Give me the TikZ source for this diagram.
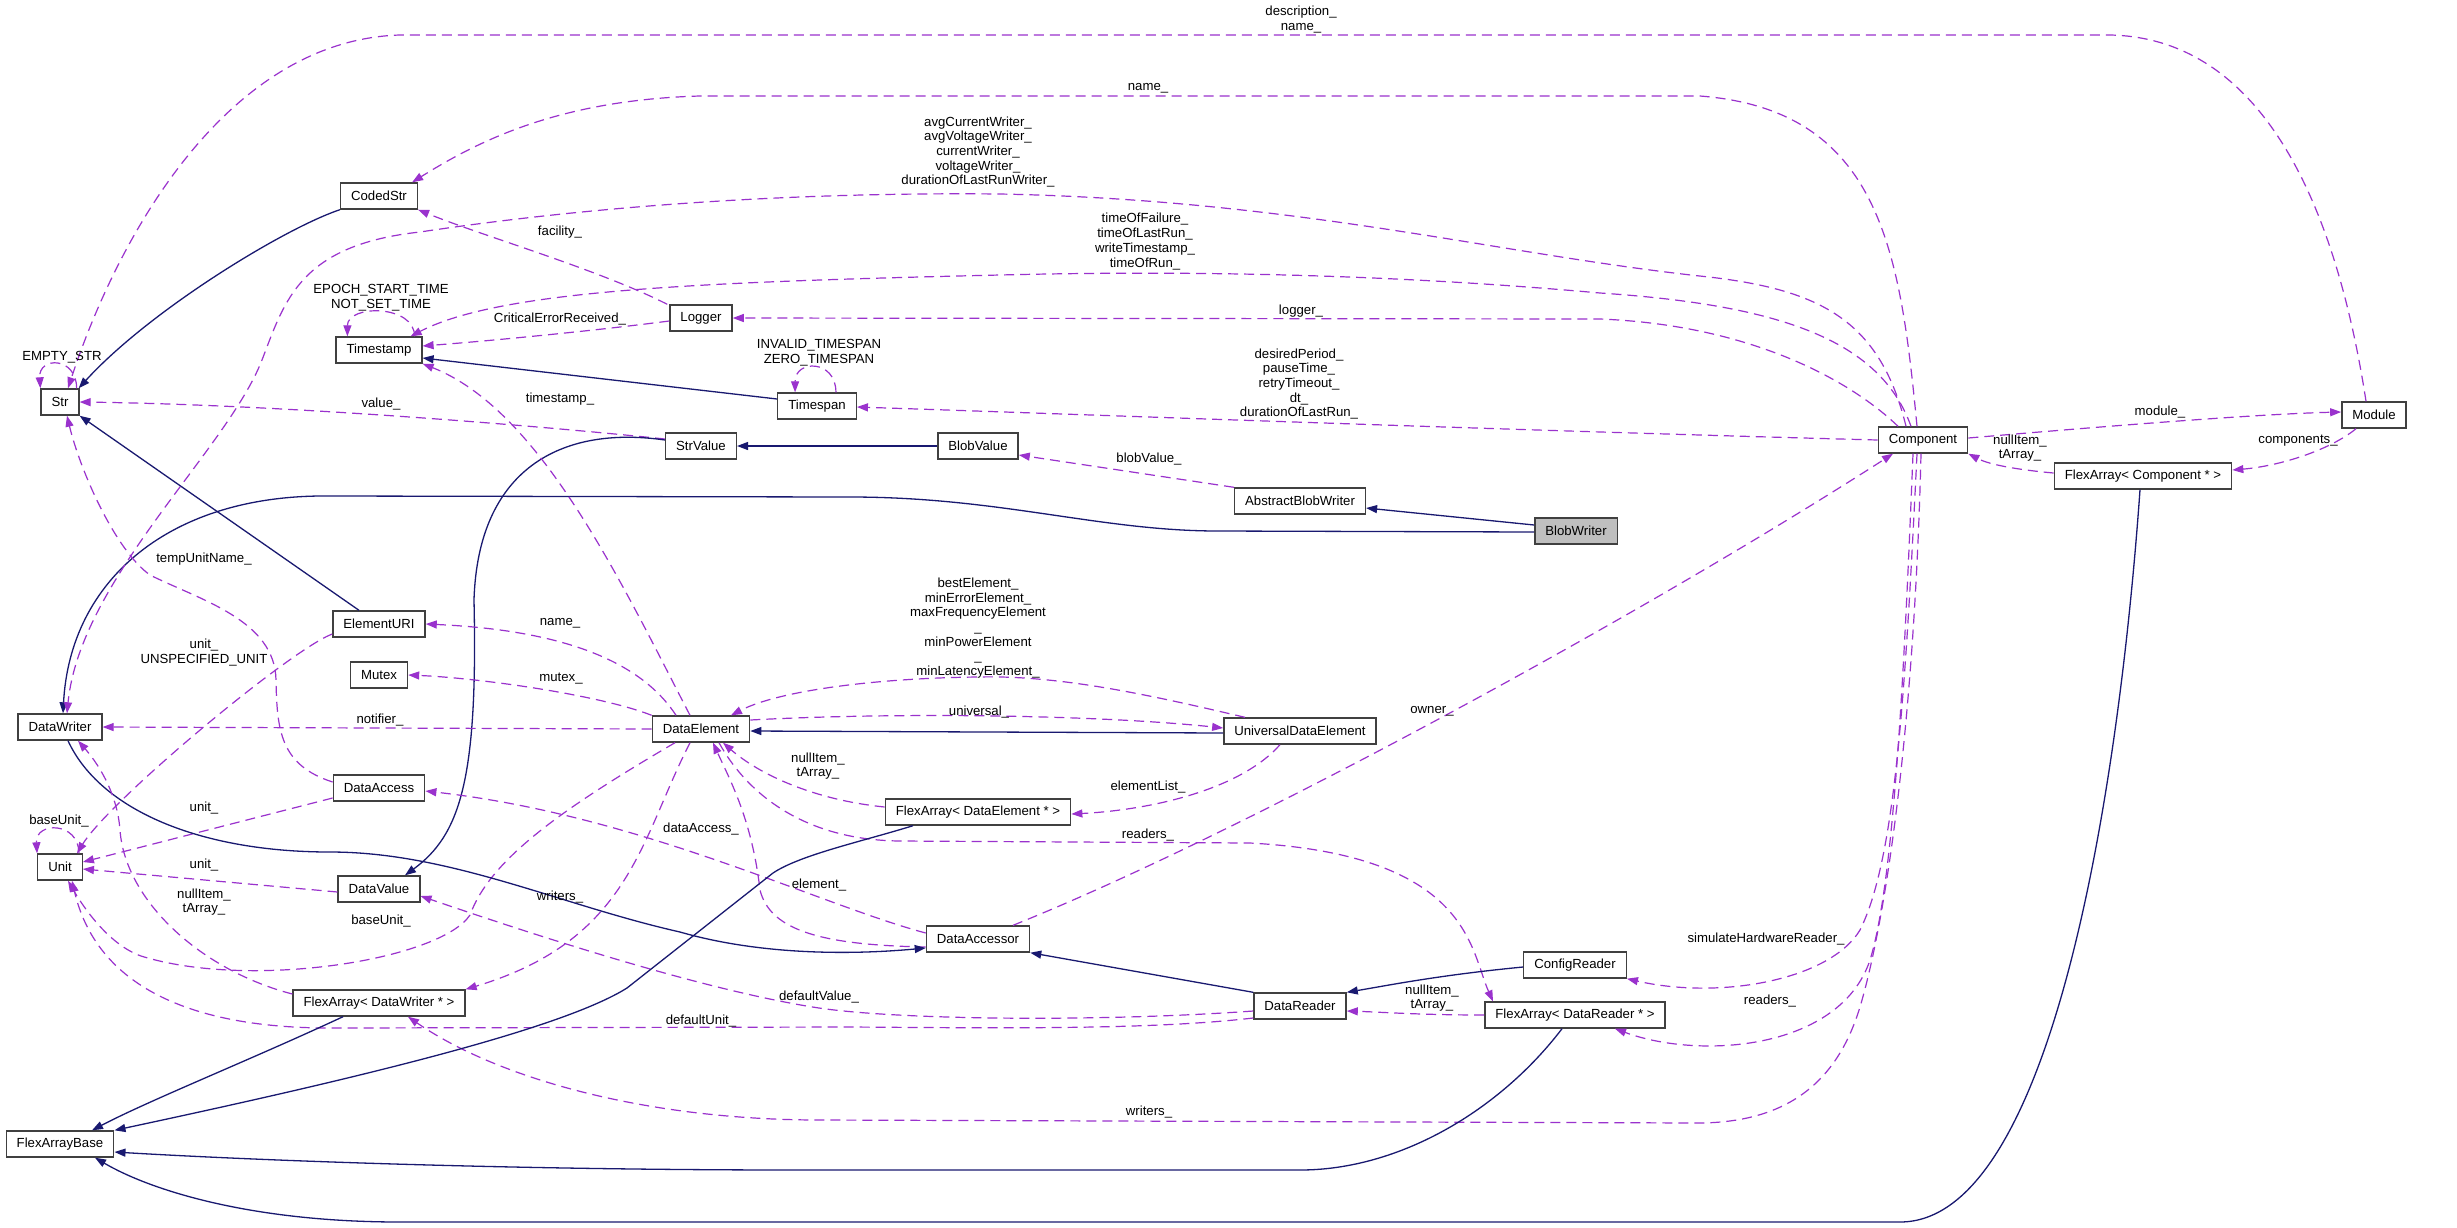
\documentclass[tikz,border=0pt]{standalone}
\usepackage{fontspec}
\setmainfont{Liberation Sans}
\usetikzlibrary{arrows.meta}
\definecolor{usec}{RGB}{154,50,205}
\definecolor{inhc}{RGB}{25,25,112}
\begin{document}
\begin{tikzpicture}[x=1pt,y=-1pt,
 cls/.style={draw=black!75, line width=1.4pt, fill=white, minimum height=26pt, inner xsep=10.5pt, inner ysep=0pt, font=\fontsize{13.2}{14.7}\selectfont},
 lbl/.style={font=\fontsize{13.2}{14.7}\selectfont, align=center, inner sep=0pt},
 use/.style={draw=usec, line width=1.2pt, dash pattern=on 10pt off 6pt, -{Triangle[length=11pt,width=8pt]}},
 inh/.style={draw=inhc, line width=1.3pt, -{Triangle[length=11pt,width=8pt]}}]
\fill[white] (0,0) rectangle (2457,1227);
\useasboundingbox (0,0) rectangle (2457,1227);

% nodes
\node[cls] (Str) at (60,402) {Str};
\node[cls] (CodedStr) at (379,196) {CodedStr};
\node[cls] (Tstamp) at (379,350) {Timestamp};
\node[cls] (Logger) at (701,318) {Logger};
\node[cls] (Tspan) at (817,406) {Timespan};
\node[cls] (StrValue) at (701,446) {StrValue};
\node[cls] (BlobValue) at (978,446) {BlobValue};
\node[cls] (ABW) at (1300,501) {AbstractBlobWriter};
\node[cls, fill=black!25] (BlobWriter) at (1576,531) {BlobWriter};
\node[cls] (Comp) at (1923,440) {Component};
\node[cls] (Module) at (2374,415) {Module};
\node[cls] (FComp) at (2143,476) {FlexArray< Component * >};
\node[cls] (EURI) at (379,624) {ElementURI};
\node[cls] (Mutex) at (379,675) {Mutex};
\node[cls] (DWriter) at (60,727) {DataWriter};
\node[cls] (DElem) at (701,729) {DataElement};
\node[cls] (UDE) at (1300,731) {UniversalDataElement};
\node[cls] (DAccess) at (379,788) {DataAccess};
\node[cls] (Unit) at (60,867) {Unit};
\node[cls] (DValue) at (379,889) {DataValue};
\node[cls] (FDE) at (978,812) {FlexArray< DataElement * >};
\node[cls] (DAcc) at (978,939) {DataAccessor};
\node[cls] (DReader) at (1300,1006) {DataReader};
\node[cls] (CReader) at (1575,965) {ConfigReader};
\node[cls] (FDR) at (1575,1015) {FlexArray< DataReader * >};
\node[cls] (FDW) at (379,1003) {FlexArray< DataWriter * >};
\node[cls] (FAB) at (60,1144) {FlexArrayBase};

% edges
\draw[use] ([xshift=-3pt]Str.north east) .. controls ([xshift=-3pt,yshift=32pt]Str.north east) and ([xshift=-2pt,yshift=32pt]Str.north west) .. (Str.north west);
\draw[inh] (CodedStr.south west) .. controls (285,228) and (150,310) .. ([xshift=-1pt]Str.north east);
\draw[inh] ([xshift=-20pt]EURI.north) -- (Str.south east);
\draw[use] ([yshift=7pt]StrValue.west) .. controls (560,428) and (300,405) .. (Str.east);
\draw[use] ([xshift=-8pt]Tstamp.north east) .. controls ([xshift=-8pt,yshift=32pt]Tstamp.north east) and ([xshift=12pt,yshift=32pt]Tstamp.north west) .. ([xshift=12pt]Tstamp.north west);
\draw[inh] ([yshift=7pt]Tspan.west) -- ([yshift=-8pt]Tstamp.east);
\draw[use] ([yshift=-3pt]Logger.west) .. controls (600,330) and (500,340) .. ([yshift=4pt]Tstamp.east);
\draw[use] ([xshift=-2pt]Logger.north west) .. controls (600,270) and (480,235) .. (CodedStr.south east);
\draw[use] ([xshift=-21pt]Tspan.north east) .. controls ([xshift=-21pt,yshift=33pt]Tspan.north east) and ([xshift=18pt,yshift=33pt]Tspan.north west) .. ([xshift=18pt]Tspan.north west);
\draw[inh] (BlobValue.west) -- (StrValue.east);
\draw[use] (ABW.north west) -- ([yshift=-9pt]BlobValue.east);
\draw[inh] ([yshift=6pt]BlobWriter.west) -- ([yshift=-7pt]ABW.east);
\draw[inh] ([yshift=-1pt]BlobWriter.west) -- (1218,531) .. controls (1100,531) and (1000,497) .. (850,497) -- (330,496) .. controls (170,494) and (70,580) .. ([xshift=3pt]DWriter.north);
\draw[inh] ([yshift=6pt]StrValue.west) .. controls (560,425) and (478,470) .. (474,600) .. controls (478,780) and (460,835) .. ([xshift=26pt]DValue.north);
\draw[use] ([xshift=-11pt]DElem.north) .. controls (620,580) and (540,410) .. (Tstamp.south east);
\draw[use] ([xshift=-25pt]DElem.north) .. controls (640,660) and (560,630) .. (EURI.east);
\draw[use] (DElem.north west) .. controls (600,695) and (480,678) .. (Mutex.east);
\draw[use] (DElem.west) -- (DWriter.east);
\draw[use] ([yshift=-10pt]EURI.west) .. controls (290,650) and (110,800) .. ([xshift=17pt]Unit.north);
\draw[use] ([yshift=6pt]DAccess.west) .. controls (280,765) and (277,730) .. (276,680) .. controls (275,620) and (200,600) .. (150,575) .. controls (115,550) and (80,470) .. ([xshift=7pt]Str.south);
\draw[use] ([yshift=-10pt]DAccess.west) -- ([yshift=5pt]Unit.east);
\draw[use] ([yshift=-3pt]DValue.west) -- ([yshift=-2pt]Unit.east);
\draw[use] ([xshift=-4pt]Unit.north east) .. controls ([xshift=-4pt,yshift=32pt]Unit.north east) and ([xshift=-2pt,yshift=32pt]Unit.north west) .. (Unit.north west);
\draw[use] ([xshift=-26pt]DElem.south) .. controls (560,810) and (490,860) .. (470,915) .. controls (440,960) and (250,990) .. (141,956) .. controls (110,945) and (85,910) .. ([xshift=8pt]Unit.south);
\draw[use] ([xshift=-11pt]DElem.south) .. controls (640,840) and (630,940) .. (FDW.north east);
\draw[use] ([yshift=-5pt]DReader.west) .. controls (1100,1022) and (900,1020) .. (819,1008) .. controls (700,990) and (520,930) .. ([yshift=-7pt]DValue.east);
\draw[use] ([yshift=-12pt]DReader.west) .. controls (1150,1030) and (1000,1028) .. (850,1027) -- (330,1028) .. controls (180,1028) and (95,980) .. ([xshift=12pt]Unit.south);
\draw[use] ([xshift=-2pt]Comp.south) .. controls (1915,700) and (1890,900) .. (1862,1000) .. controls (1840,1080) and (1790,1122) .. (1700,1123) -- (820,1120) .. controls (650,1120) and (500,1080) .. ([xshift=29pt]FDW.south);
\draw[use] ([xshift=-10pt]Comp.south) .. controls (1905,650) and (1895,880) .. (1870,960) .. controls (1840,1050) and (1700,1060) .. ([xshift=40pt]FDR.south);
\draw[use] ([xshift=-6pt]Comp.south) .. controls (1905,700) and (1895,860) .. (1860,930) .. controls (1830,980) and (1720,1000) .. (CReader.south east);
\draw[use] ([xshift=35pt]DAcc.north) .. controls (1250,830) and (1650,610) .. ([xshift=-30pt]Comp.south);
\draw[use] ([xshift=18pt]DElem.south) .. controls (745,790) and (800,840) .. (900,841) -- (1250,843) .. controls (1470,855) and (1470,950) .. ([xshift=-82pt]FDR.north);
\draw[use] ([yshift=5pt]FDE.west) .. controls (815,800) and (760,775) .. ([xshift=22pt]DElem.south);
\draw[use] ([yshift=-8pt]DAcc.west) .. controls (820,945) and (770,930) .. (760,890) .. controls (752,820) and (730,780) .. ([xshift=12pt]DElem.south);
\draw[use] ([yshift=6pt]DAcc.west) .. controls (820,905) and (640,815) .. ([yshift=-3pt]DAccess.east);
\draw[use] ([yshift=9pt]DElem.east) .. controls (900,712) and (1100,715) .. ([yshift=3pt]UDE.west);
\draw[inh] ([yshift=-2pt]UDE.west) -- ([yshift=-2pt]DElem.east);
\draw[use] ([xshift=-55pt]UDE.north) .. controls (1150,695) and (1060,675) .. (978,677) .. controls (880,678) and (780,690) .. ([xshift=30pt]DElem.north);
\draw[use] ([xshift=-20pt]UDE.south) .. controls (1240,790) and (1150,810) .. ([yshift=-2pt]FDE.east);
\draw[inh] ([xshift=-65pt]FDE.south) .. controls (860,842) and (800,855) .. (773,873) -- (627,988) .. controls (560,1030) and (350,1080) .. (FAB.north east);
\draw[inh] ([xshift=-36pt]FDW.south) .. controls (250,1060) and (150,1100) .. ([xshift=32pt]FAB.north);
\draw[inh] ([xshift=-13pt]FDR.south) .. controls (1500,1110) and (1400,1170) .. (1300,1170) -- (800,1170) .. controls (500,1170) and (250,1160) .. ([yshift=-8pt]FAB.east);
\draw[inh] ([xshift=-3pt]FComp.south) .. controls (2118,800) and (2050,1222) .. (1900,1222) -- (400,1222) .. controls (250,1222) and (150,1190) .. ([xshift=35pt]FAB.south);
\draw[inh] ([xshift=8pt]DWriter.south) .. controls (100,810) and (200,852) .. (330,852) .. controls (450,852) and (560,905) .. (680,932) .. controls (760,955) and (850,955) .. ([yshift=-9pt]DAcc.west);
\draw[inh] (DReader.north west) -- (DAcc.south east);
\draw[inh] ([yshift=-2pt]CReader.west) .. controls (1440,975) and (1390,985) .. (DReader.north east);
\draw[use] (FDR.west) .. controls (1420,1015) and (1380,1012) .. ([yshift=-5pt]DReader.east);
\draw[use] ([xshift=-6pt]Comp.north) .. controls (1900,250) and (1880,110) .. (1700,96) -- (700,96) .. controls (560,100) and (480,140) .. ([xshift=-6pt]CodedStr.north east);
\draw[use] ([xshift=-8pt]Module.north) .. controls (2335,200) and (2260,38) .. (2110,35) -- (400,35) .. controls (230,40) and (120,230) .. ([xshift=8pt]Str.north);
\draw[use] ([xshift=-17pt]Comp.north) .. controls (1880,320) and (1820,290) .. (1709,277) .. controls (1500,255) and (1300,200) .. (1000,194) .. controls (800,192) and (600,205) .. (420,232) .. controls (300,245) and (285,300) .. (262,360) .. controls (227,450) and (80,580) .. ([xshift=7pt]DWriter.north);
\draw[use] ([xshift=-12pt]Comp.north) .. controls (1880,340) and (1780,305) .. (1600,293) .. controls (1400,275) and (1200,270) .. (1000,275) .. controls (700,282) and (500,290) .. ([xshift=-12pt]Tstamp.north east);
\draw[use] ([xshift=-25pt]Comp.north) .. controls (1850,380) and (1750,325) .. (1600,319) -- (Logger.east);
\draw[use] (Comp.west) .. controls (1500,430) and (1100,415) .. ([yshift=-1pt]Tspan.east);
\draw[use] ([yshift=2pt]Comp.east) .. controls (2120,425) and (2260,414) .. ([yshift=3pt]Module.west);
\draw[use] ([xshift=-18pt]Module.south) .. controls (2330,450) and (2280,466) .. ([yshift=6pt]FComp.east);
\draw[use] ([yshift=3pt]FComp.west) .. controls (2020,470) and (1990,465) .. (Comp.south east);
\draw[use] ([yshift=9pt]FDW.west) .. controls (200,970) and (125,900) .. (120,830) .. controls (117,790) and (95,760) .. ([xshift=18pt]DWriter.south);

% labels
\node[lbl] (l1) at (1301,19.5) {description\_\\name\_};
\node[lbl] (l2) at (1148,88) {name\_};
\node[lbl] (l3) at (978,152) {avgCurrentWriter\_\\avgVoltageWriter\_\\currentWriter\_\\voltageWriter\_\\durationOfLastRunWriter\_};
\node[lbl] (l4) at (1145,241.5) {timeOfFailure\_\\timeOfLastRun\_\\writeTimestamp\_\\timeOfRun\_};
\node[lbl] (l5) at (560,232) {facility\_};
\node[lbl] (l6) at (381,297.5) {EPOCH\_START\_TIME\\NOT\_SET\_TIME};
\node[lbl] (l7) at (560,319) {CriticalErrorReceived\_};
\node[lbl] (l8) at (1301,311) {logger\_};
\node[lbl] (l9) at (819,352.5) {INVALID\_TIMESPAN\\ZERO\_TIMESPAN};
\node[lbl] (l10) at (62,357) {EMPTY\_STR};
\node[lbl] (l11) at (1299,384) {desiredPeriod\_\\pauseTime\_\\retryTimeout\_\\dt\_\\durationOfLastRun\_};
\node[lbl] (l12) at (381,404) {value\_};
\node[lbl] (l13) at (560,399) {timestamp\_};
\node[lbl] (l14) at (1149,459) {blobValue\_};
\node[lbl] (l15) at (2160,412) {module\_};
\node[lbl] (l16) at (2020,448) {nullItem\_\\tArray\_};
\node[lbl] (l17) at (2298,441) {components\_};
\node[lbl] (l18) at (204,559) {tempUnitName\_};
\node[lbl] (l19) at (978,628) {bestElement\_\\minErrorElement\_\\maxFrequencyElement\\\_\\minPowerElement\\\_\\minLatencyElement\_};
\node[lbl] (l20) at (560,623) {name\_};
\node[lbl] (l21) at (204,652.5) {unit\_\\UNSPECIFIED\_UNIT};
\node[lbl] (l22) at (561,679) {mutex\_};
\node[lbl] (l23) at (1432,711) {owner\_};
\node[lbl] (l24) at (979,712) {universal\_};
\node[lbl] (l25) at (380,720) {notifier\_};
\node[lbl] (l26) at (818,766) {nullItem\_\\tArray\_};
\node[lbl] (l27) at (1148,787) {elementList\_};
\node[lbl] (l28) at (204,808) {unit\_};
\node[lbl] (l29) at (59,821) {baseUnit\_};
\node[lbl] (l30) at (701,829) {dataAccess\_};
\node[lbl] (l31) at (1148,835) {readers\_};
\node[lbl] (l32) at (204,865) {unit\_};
\node[lbl] (l33) at (819,885) {element\_};
\node[lbl] (l34) at (560,897) {writers\_};
\node[lbl] (l35) at (204,902) {nullItem\_\\tArray\_};
\node[lbl] (l36) at (381,921) {baseUnit\_};
\node[lbl] (l37) at (1766,939) {simulateHardwareReader\_};
\node[lbl] (l38) at (1432,998) {nullItem\_\\tArray\_};
\node[lbl] (l39) at (819,997) {defaultValue\_};
\node[lbl] (l40) at (1770,1001) {readers\_};
\node[lbl] (l41) at (701,1021) {defaultUnit\_};
\node[lbl] (l42) at (1149,1112) {writers\_};
\end{tikzpicture}
\end{document}
